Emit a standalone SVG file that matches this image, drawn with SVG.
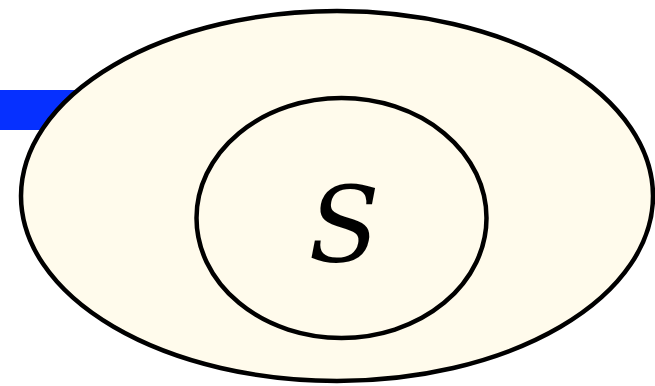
<svg xmlns="http://www.w3.org/2000/svg" width="655" height="386" viewBox="0 0 655 386">
<style>
.shape{fill:#fffbec;stroke:#000;stroke-width:4.5}
.lbl{font-family:"DejaVu Serif","Liberation Serif",serif;font-style:italic;font-size:104px;fill:#000}
</style>
<rect width="655" height="386" fill="#fff"/>
<g id="connectors">
<rect x="0" y="90" width="120" height="40" fill="#0630ff"/>
</g>
<g id="outer">
<ellipse class="shape" cx="337" cy="196" rx="316" ry="185"/>
</g>
<g id="inner">
<ellipse class="shape" cx="341.5" cy="218" rx="145" ry="120"/>
<text class="lbl" x="344" y="262" text-anchor="middle">S</text>
</g>
</svg>
